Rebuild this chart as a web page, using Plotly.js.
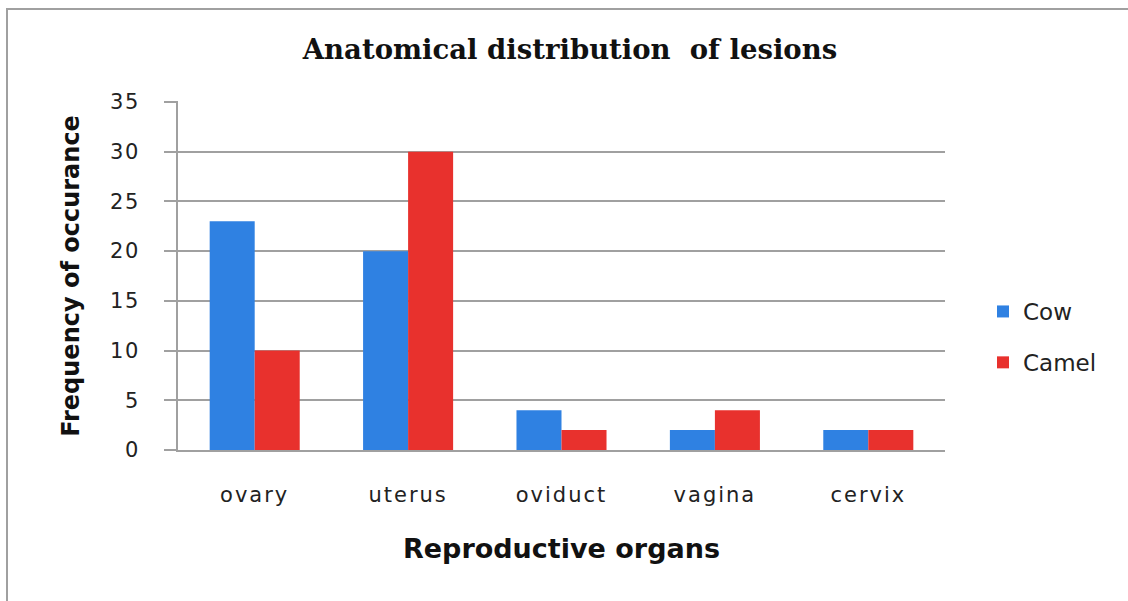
<!DOCTYPE html>
<html>
<head>
<meta charset="utf-8">
<script src="https://cdn.plot.ly/plotly-3.0.1.min.js"></script>
<style>
html,body{margin:0;padding:0;background:#fff;}
#chart{width:1128px;height:601px;}
#chart .xtick text {letter-spacing: 2px;}
#chart .ytick text {letter-spacing: 1.5px;}
</style>
</head>
<body>
<div id="chart"></div>
<script>
const categories = ["ovary", "uterus", "oviduct", "vagina", "cervix"];
const cowValues = [23, 20, 4, 2, 2];
const camelValues = [10, 30, 2, 4, 2];
const yTickValues = [0, 5, 10, 15, 20, 25, 30, 35];

const W = 1128, H = 601;
const M = {l: 178, r: 183, t: 102, b: 151};
const pw = W - M.l - M.r, ph = H - M.t - M.b;
// outer frame in paper coords
const fx0 = (7 - M.l) / pw, fx1 = (W + 20 - M.l) / pw;
const fy1 = (H - M.b - 9) / ph, fy0 = (H - M.b - (H + 20)) / ph;

const data = [
  {type: "bar", name: "Cow", x: categories, y: cowValues,
   marker: {color: "rgb(47,129,226)"}, legendgroup: "a"},
  {type: "bar", name: "Camel", x: categories, y: camelValues,
   marker: {color: "rgb(232,49,45)"}, legendgroup: "b"}
];

const layout = {
  width: W, height: H,
  margin: M,
  paper_bgcolor: "#fff", plot_bgcolor: "#fff",
  barmode: "group", bargap: 0.413, bargroupgap: 0,
  title: {text: "Anatomical distribution  of lesions",
          font: {family: "DejaVu Serif", size: 27.5, color: "#111", weight: "bold"},
          x: 570 / W, xref: "container", xanchor: "center",
          y: 1 - 49 / H, yref: "container", yanchor: "middle"},
  xaxis: {
    title: {text: "Reproductive organs", font: {family: "DejaVu Sans", size: 27, color: "#111", weight: "bold"}, standoff: 33},
    tickfont: {family: "DejaVu Sans", size: 21, color: "#222"},
    ticks: "", ticklabelstandoff: 25,
    showline: true, linecolor: "#a0a0a0", linewidth: 2,
    showgrid: false, zeroline: false
  },
  yaxis: {
    title: {text: "Frequency of occurance", font: {family: "DejaVu Sans", size: 24, color: "#111", weight: "bold"}, standoff: 27},
    range: [0, 35], tickvals: yTickValues, ticktext: yTickValues.map(String),
    tickfont: {family: "DejaVu Sans", size: 21, color: "#222"},
    ticks: "outside", ticklen: 12, tickcolor: "#a0a0a0", tickwidth: 2,
    ticklabelstandoff: 20,
    showline: true, linecolor: "#a0a0a0", linewidth: 2,
    showgrid: true, gridcolor: "#a0a0a0", gridwidth: 2,
    zeroline: false
  },
  legend: {
    x: 983 / W, xref: "container", xanchor: "left",
    y: 1 - 337 / H, yref: "container", yanchor: "middle",
    font: {family: "DejaVu Sans", size: 23, color: "#222"},
    traceorder: "grouped", tracegroupgap: 18,
    bgcolor: "rgba(0,0,0,0)"
  },
  shapes: [
    {type: "rect", xref: "paper", yref: "paper", x0: fx0, x1: fx1, y0: fy0, y1: fy1,
     line: {color: "#a0a0a0", width: 2}, fillcolor: "rgba(0,0,0,0)", layer: "below"},
    {type: "line", xref: "paper", yref: "paper", x0: -12 / pw, x1: 0, y0: 1, y1: 1,
     line: {color: "#a0a0a0", width: 2}}
  ]
};

Plotly.newPlot("chart", data, layout, {displayModeBar: false, staticPlot: true});
</script>
</body>
</html>
